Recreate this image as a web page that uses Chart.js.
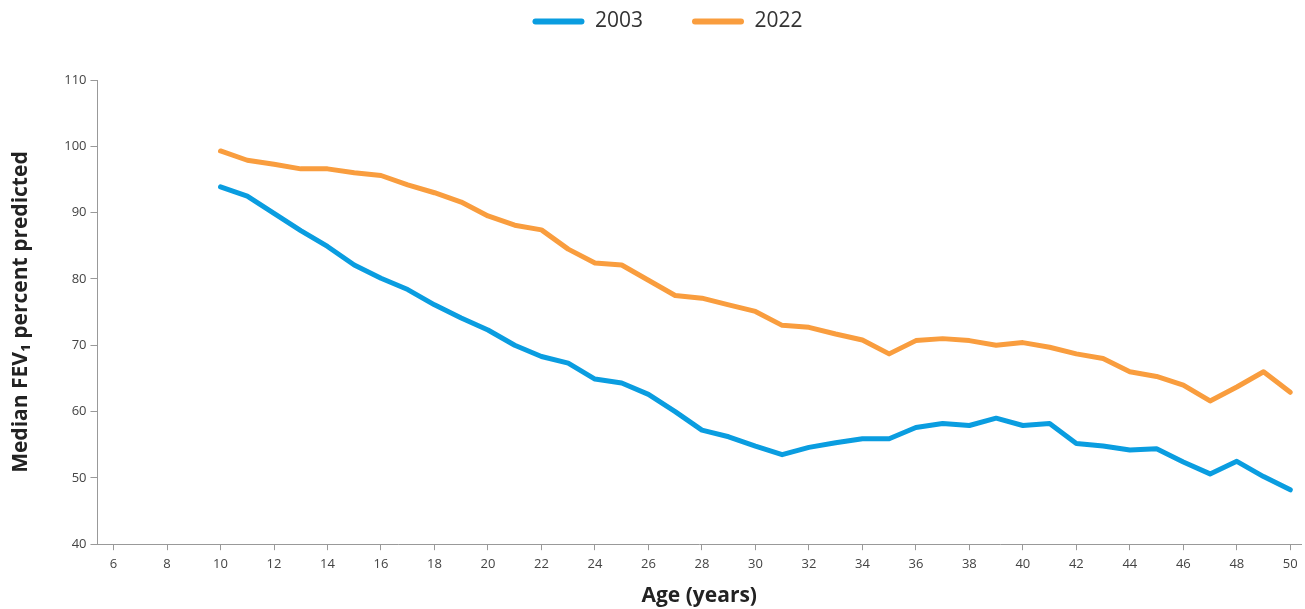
<!DOCTYPE html>
<html>
<head>
<meta charset="utf-8">
<script src="https://cdn.jsdelivr.net/npm/chart.js@4"></script>
<style>
  html, body { margin: 0; padding: 0; background: #fff; }
  #wrap { width: 1305px; height: 609px; }
</style>
</head>
<body>
<div id="wrap"><canvas id="grafico" width="1305" height="609"></canvas></div>
<script>
const idades = [10, 11, 12, 13, 14, 15, 16, 17, 18, 19, 20, 21, 22, 23, 24, 25, 26, 27, 28, 29, 30,
  31, 32, 33, 34, 35, 36, 37, 38, 39, 40, 41, 42, 43, 44, 45, 46, 47, 48, 49, 50];

const fev2003 = [93.9, 92.5, 89.9, 87.3, 84.9, 82.1, 80.1, 78.4, 76.1, 74.1, 72.3, 70.0, 68.3, 67.3, 64.9, 64.3,
  62.6, 60.0, 57.2, 56.2, 54.8, 53.5, 54.6, 55.3, 55.9, 55.9, 57.6, 58.2, 57.9, 59.0, 57.9, 58.2,
  55.2, 54.8, 54.2, 54.4, 52.4, 50.6, 52.5, 50.2, 48.2];

const fev2022 = [99.3, 97.9, 97.3, 96.6, 96.6, 96.0, 95.6, 94.2, 93.0, 91.6, 89.5, 88.1, 87.4, 84.5, 82.4, 82.1,
  79.8, 77.5, 77.1, 76.1, 75.1, 73.0, 72.7, 71.7, 70.8, 68.7, 70.7, 71.0, 70.7, 70.0, 70.4, 69.7,
  68.7, 68.0, 66.0, 65.3, 64.0, 61.6, 63.7, 66.0, 62.9];

const ticksX = [6, 8, 10, 12, 14, 16, 18, 20, 22, 24, 26, 28, 30, 32, 34, 36, 38, 40, 42, 44, 46, 48, 50];
const ticksY = [40, 50, 60, 70, 80, 90, 100, 110];

const azul = "#0a9de0";
const laranja = "#f99d3e";
const fonte = "'Open Sans', 'DejaVu Sans', sans-serif";

// legenda: espaço horizontal grande entre itens, mas altura pequena
const alturaLegenda = 80;
const subirLegenda = 38;
const deslocarLegenda = 13;

function pontos(valores) {
  return idades.map((a, i) => ({ x: a, y: valores[i] }));
}

const ajusteLegenda = {
  id: "ajusteLegenda",
  afterInit(chart) {
    const lg = chart.legend;
    const fitOrig = lg.fit.bind(lg);
    lg.fit = function () {
      fitOrig();
      this.height = alturaLegenda;
    };
    const drawOrig = lg.draw.bind(lg);
    lg.draw = function () {
      const t = this.top, l = this.left, r = this.right;
      this.top = t - subirLegenda;
      this.left = l + deslocarLegenda;
      this.right = r + deslocarLegenda;
      drawOrig();
      this.top = t;
      this.left = l;
      this.right = r;
    };
  }
};

const ctx = document.getElementById("grafico").getContext("2d");

new Chart(ctx, {
  type: "line",
  data: {
    datasets: [
      {
        label: "2003",
        data: pontos(fev2003),
        borderColor: azul,
        backgroundColor: azul,
        borderWidth: 5,
        pointRadius: 0,
        tension: 0,
        borderCapStyle: "round",
        borderJoinStyle: "round"
      },
      {
        label: "2022",
        data: pontos(fev2022),
        borderColor: laranja,
        backgroundColor: laranja,
        borderWidth: 5,
        pointRadius: 0,
        tension: 0,
        borderCapStyle: "round",
        borderJoinStyle: "round"
      }
    ]
  },
  plugins: [ajusteLegenda],
  options: {
    responsive: false,
    animation: false,
    layout: { padding: { left: 8, right: 4, top: 0, bottom: 0 } },
    plugins: {
      tooltip: { enabled: false },
      legend: {
        position: "top",
        labels: {
          font: { family: fonte, size: 21 },
          color: "#333",
          boxWidth: 52,
          boxHeight: 6,
          useBorderRadius: true,
          borderRadius: 3,
          padding: 49,
          generateLabels: (chart) => {
            const itens = Chart.defaults.plugins.legend.labels.generateLabels(chart);
            itens.forEach(it => { it.lineWidth = 0; });
            return itens;
          }
        }
      }
    },
    scales: {
      x: {
        type: "linear",
        min: 5.4,
        max: 50.4,
        afterBuildTicks: (scale) => { scale.ticks = ticksX.map(v => ({ value: v })); },
        grid: { display: true, drawOnChartArea: false, tickLength: 6, color: "#999" },
        border: { display: true, color: "#999", width: 1 },
        ticks: { font: { family: fonte, size: 13 }, color: "#444", padding: 6, maxRotation: 0 },
        title: {
          display: true,
          text: "Age (years)",
          font: { family: fonte, size: 21, weight: "bold" },
          color: "#222",
          padding: { top: 6, bottom: 0 }
        }
      },
      y: {
        min: 40,
        max: 110,
        afterBuildTicks: (scale) => { scale.ticks = ticksY.map(v => ({ value: v })); },
        grid: { display: true, drawOnChartArea: false, tickLength: 7, color: "#999" },
        border: { display: true, color: "#999", width: 1 },
        ticks: { font: { family: fonte, size: 13 }, color: "#444", padding: 4 },
        title: {
          display: true,
          text: "Median FEV\u2081 percent predicted",
          font: { family: fonte, size: 21, weight: "bold" },
          color: "#222",
          padding: { top: 0, bottom: 27 }
        }
      }
    }
  }
});
</script>
</body>
</html>
